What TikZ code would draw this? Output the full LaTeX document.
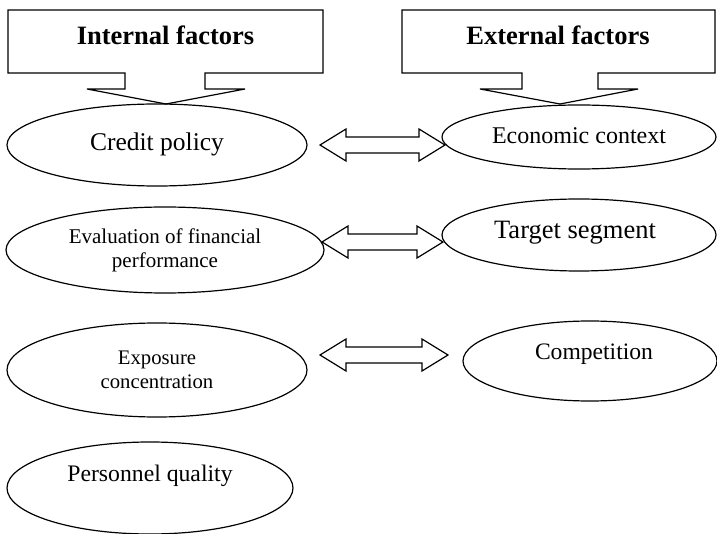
\documentclass[tikz,border=0pt]{standalone}
\usepackage{fontspec}
\setmainfont{Liberation Serif}
\usetikzlibrary{shapes.geometric,calc}
\newcommand\blockarrow[1]{%
  \draw[blk] (#1-l) -- ++(26,-16) -- ++(0,8) -- ($(#1-r)+(-26,-8)$) -- ++(0,-8) -- (#1-r)
    -- ++(-26,16) -- ++(0,-8) -- ($(#1-l)+(26,8)$) -- ++(0,8) -- cycle;}
\begin{document}
\begin{tikzpicture}[x=1pt,y=-1pt,
  oval/.style={draw, ellipse, inner sep=0pt, line width=1.2pt},
  blk/.style={draw, line width=1.2pt, line join=miter},
  callout/.style={draw, line width=1.2pt, line join=miter},
  lbl/.style={align=center, inner sep=0pt},
  head/.style={lbl, font=\fontsize{26.5}{30}\selectfont\bfseries}]
\useasboundingbox (0,0) rectangle (717,534);

% callouts
\draw[callout] (8,10) -- (323,10) -- (323,73) -- (205,73) -- (205,89) -- (245,89)
  -- (166,104) -- (87,89) -- (125,89) -- (125,73) -- (8,73) -- cycle;
\draw[callout] (402,10) -- (715,10) -- (715,73) -- (598,73) -- (598,89) -- (638,89)
  -- (560,104) -- (480,89) -- (522,89) -- (522,73) -- (402,73) -- cycle;
\node[head] (int) at (165.5,35) {Internal factors};
\node[head] (ext) at (558,35) {External factors};

% ellipses
\node[oval, minimum width=300, minimum height=82] (credit) at (157,145) {};
\node[oval, minimum width=274, minimum height=64] (econ) at (579,137) {};
\node[oval, minimum width=318, minimum height=86] (eval) at (165,250) {};
\node[oval, minimum width=274, minimum height=72] (target) at (579,235) {};
\node[oval, minimum width=300, minimum height=94] (expo) at (157,370) {};
\node[oval, minimum width=254, minimum height=80] (comp) at (590,361) {};
\node[oval, minimum width=286, minimum height=92] (pers) at (150,488) {};

% texts
\node[lbl, font=\fontsize{25.5}{29}\selectfont] (tcredit) at (157,144) {Credit policy};
\node[lbl, font=\fontsize{24}{28}\selectfont] (tecon) at (579,136) {Economic context};
\node[lbl, font=\fontsize{21}{24}\selectfont] (teval) at (165,250) {Evaluation of financial\\performance};
\node[lbl, font=\fontsize{26.5}{30}\selectfont] (ttarget) at (575,233) {Target segment};
\node[lbl, font=\fontsize{20.7}{24}\selectfont] (texpo) at (157,370) {Exposure\\concentration};
\node[lbl, font=\fontsize{23.6}{28}\selectfont] (tcomp) at (594,354) {Competition};
\node[lbl, font=\fontsize{23.7}{28}\selectfont] (tpers) at (150,476) {Personnel quality};

% block arrows
\coordinate (a1-l) at (320,145); \coordinate (a1-r) at (445,145);
\coordinate (a2-l) at (322,242); \coordinate (a2-r) at (443,242);
\coordinate (a3-l) at (320,355); \coordinate (a3-r) at (448,355);
\blockarrow{a1}
\blockarrow{a2}
\blockarrow{a3}
\end{tikzpicture}
\end{document}
